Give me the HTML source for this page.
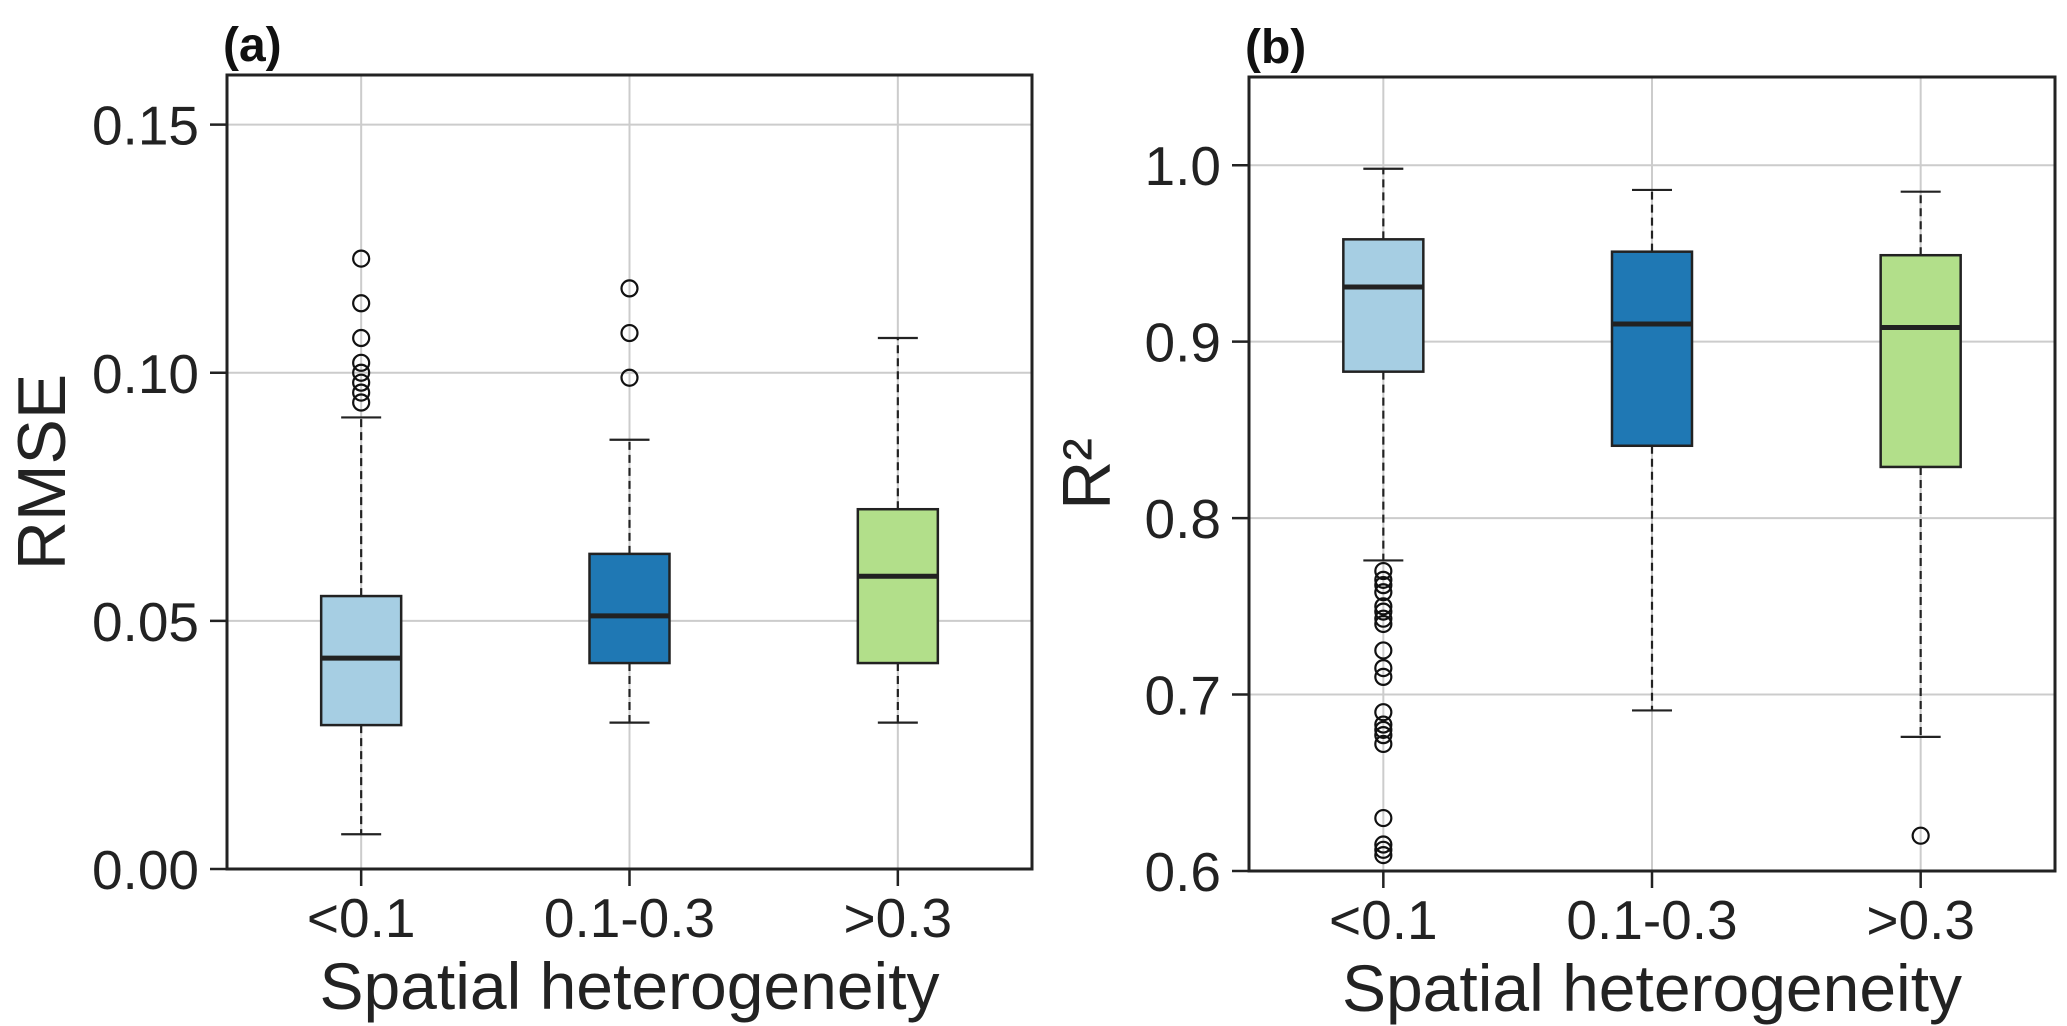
<!DOCTYPE html>
<html><head><meta charset="utf-8"><style>
html,body{margin:0;padding:0;background:#fff;}
svg{display:block;font-family:"Liberation Sans",Arial,sans-serif;}
</style></head><body>
<svg id="fig" width="2067" height="1026" viewBox="0 0 2067 1026" xmlns="http://www.w3.org/2000/svg"></svg>
<script>
const categories = ["<0.1", "0.1-0.3", ">0.3"];
const rmseQ1 = [0.029, 0.0415, 0.0415];
const rmseMed = [0.0425, 0.051, 0.059];
const rmseQ3 = [0.055, 0.0635, 0.0725];
const rmseLo = [0.007, 0.0295, 0.0295];
const rmseHi = [0.091, 0.0865, 0.107];
const rmseOut = [[0.123,0.114,0.107,0.102,0.100,0.098,0.096,0.094],[0.117,0.108,0.099],[]];
const rmseTicks = ["0.00","0.05","0.10","0.15"];
const r2Q1 = [0.883, 0.841, 0.829];
const r2Med = [0.931, 0.910, 0.908];
const r2Q3 = [0.958, 0.951, 0.949];
const r2Lo = [0.776, 0.691, 0.676];
const r2Hi = [0.998, 0.986, 0.985];
const r2Out = [[0.770,0.765,0.762,0.758,0.750,0.747,0.743,0.740,0.725,0.715,0.710,0.690,0.683,0.680,0.677,0.672,0.630,0.615,0.612,0.609],[],[0.620]];
const r2Ticks = ["0.6","0.7","0.8","0.9","1.0"];
const colors = ["#a6cee3","#1f78b4","#b2df8a"];

const svg = document.getElementById('fig');
const NS = "http://www.w3.org/2000/svg";
function mk(tag, attrs, parent){
  const e = document.createElementNS(NS, tag);
  for (const k in attrs) e.setAttribute(k, attrs[k]);
  (parent||svg).appendChild(e);
  return e;
}
function panel(cfg){
  const g = mk('g', {});
  
  
  const {L,R,T,B,ymin,ymax} = cfg;
  const y = v => B - (v - ymin) / (ymax - ymin) * (B - T);
  const step = (R - L) / 3;
  const x = i => L + step * (i + 0.5);
  cfg.ticks.forEach(t => {
    const yy = y(parseFloat(t));
    const gl = mk('line', {x1:L, x2:R, y1:yy, y2:yy, stroke:'#cccccc', 'stroke-width':2}, g);
    
    
    const tk = mk('line', {x1:L-17, x2:L, y1:yy, y2:yy, stroke:'#222', 'stroke-width':2.5}, g);
    
    
    const tl = mk('text', {x:L-28, y:yy+20, 'text-anchor':'end', 'font-size':55, fill:'#222'}, g);
    tl.textContent = t;
    
    
  });
  categories.forEach((c, i) => {
    const xx = x(i);
    const gl = mk('line', {x1:xx, x2:xx, y1:T, y2:B, stroke:'#cccccc', 'stroke-width':2}, g);
    
    
    const tk = mk('line', {x1:xx, x2:xx, y1:B, y2:B+17, stroke:'#222', 'stroke-width':2.5}, g);
    
    
    const tl = mk('text', {x:xx, y:B+68, 'text-anchor':'middle', 'font-size':55, fill:'#222'}, g);
    tl.textContent = c;
    
    
  });
  categories.forEach((c, i) => {
    const xx = x(i), hw = 40, cw = 20;
    const bg = mk('g', {}, g);
    
    
    mk('line', {x1:xx, x2:xx, y1:y(cfg.q1[i]), y2:y(cfg.lo[i]), stroke:'#222', 'stroke-width':2.2, 'stroke-dasharray':'8,5'}, bg);
    mk('line', {x1:xx, x2:xx, y1:y(cfg.q3[i]), y2:y(cfg.hi[i]), stroke:'#222', 'stroke-width':2.2, 'stroke-dasharray':'8,5'}, bg);
    mk('line', {x1:xx-cw, x2:xx+cw, y1:y(cfg.lo[i]), y2:y(cfg.lo[i]), stroke:'#222', 'stroke-width':2.2}, bg);
    mk('line', {x1:xx-cw, x2:xx+cw, y1:y(cfg.hi[i]), y2:y(cfg.hi[i]), stroke:'#222', 'stroke-width':2.2}, bg);
    mk('rect', {x:xx-hw, y:y(cfg.q3[i]), width:2*hw, height:y(cfg.q1[i])-y(cfg.q3[i]), fill:colors[i], stroke:'#222', 'stroke-width':2.5}, bg);
    mk('line', {x1:xx-hw, x2:xx+hw, y1:y(cfg.med[i]), y2:y(cfg.med[i]), stroke:'#222', 'stroke-width':5}, bg);
    cfg.out[i].forEach(v => {
      const o = mk('circle', {cx:xx, cy:y(v), r:8, fill:'none', stroke:'#111', 'stroke-width':2.2}, bg);
      
      
    });
  });
  const fr = mk('rect', {x:L, y:T, width:R-L, height:B-T, fill:'none', stroke:'#222', 'stroke-width':3}, g);
  
  
  const xt = mk('text', {x:(L+R)/2, y:B+140, 'text-anchor':'middle', 'font-size':66, fill:'#222'}, g);
  xt.textContent = 'Spatial heterogeneity';
  
  
  const yt = mk('text', {x:0, y:0, 'text-anchor':'middle', 'font-size':68, fill:'#222', transform:'translate(' + cfg.ytx + ',' + ((T+B)/2) + ') rotate(-90)'}, g);
  yt.textContent = cfg.ytitle;
  
  
  const pl = mk('text', {x:L-4, y:T-14, 'font-size':48, 'font-weight':'bold', fill:'#111'}, g);
  pl.textContent = cfg.label;
  
  
}
panel({name:'rmse-panel', L:227, R:1032, T:75, B:869, ymin:0, ymax:0.16, ticks:rmseTicks,
  q1:rmseQ1, med:rmseMed, q3:rmseQ3, lo:rmseLo, hi:rmseHi, out:rmseOut, ytitle:'RMSE', ytx:65, label:'(a)'});
panel({name:'r2-panel', L:1249, R:2055, T:77, B:871, ymin:0.6, ymax:1.05, ticks:r2Ticks,
  q1:r2Q1, med:r2Med, q3:r2Q3, lo:r2Lo, hi:r2Hi, out:r2Out, ytitle:'R²', ytx:1110, label:'(b)'});
</script>
</body></html>
